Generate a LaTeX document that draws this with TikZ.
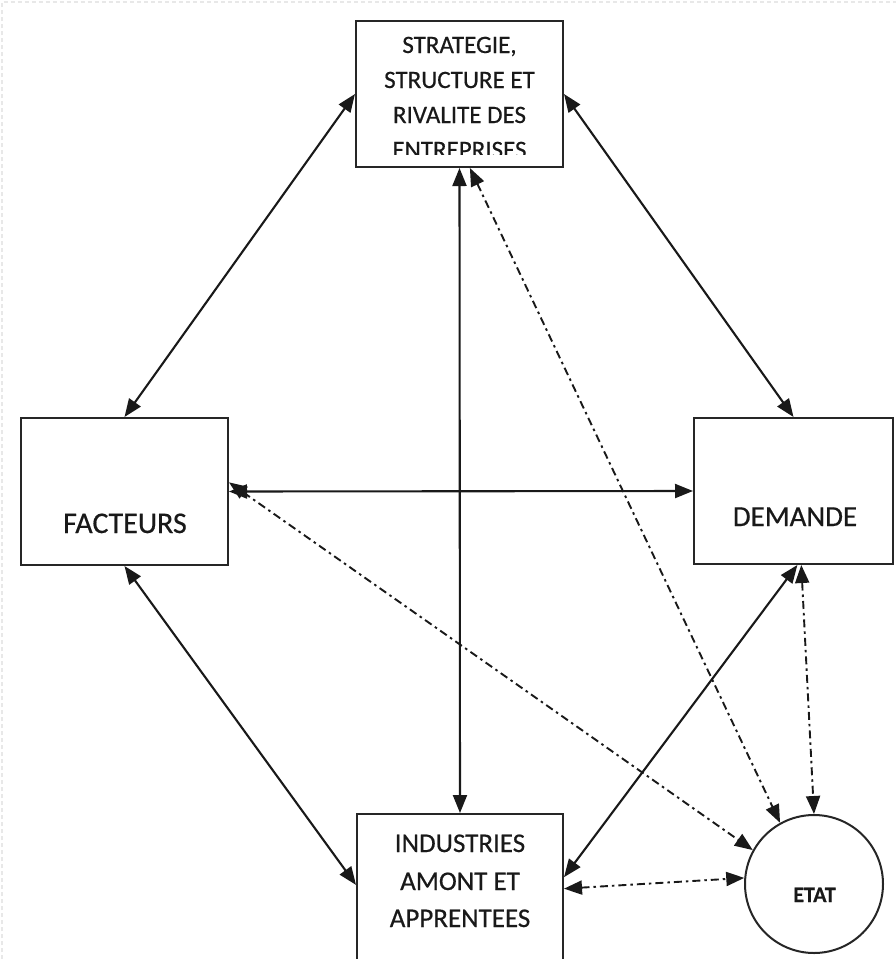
\documentclass[tikz,border=0pt]{standalone}
\usepackage{fontspec}
\setmainfont{Carlito}[FakeBold=0.5]
\usetikzlibrary{arrows.meta}
\begin{document}
\begin{tikzpicture}[x=1pt,y=-1pt,
  box/.style={draw=black!85, line width=2pt, fill=white, inner sep=0pt},
  lbl/.style={anchor=base, inner sep=0pt, text=black!90},
  rel/.style={line width=2.1pt, draw=black!90, {Triangle[length=18pt,width=14pt]}-{Triangle[length=18pt,width=14pt]}},
  gov/.style={line width=1.9pt, draw=black!90, dash pattern=on 8pt off 4pt on 2.5pt off 4pt, {Triangle[length=18pt,width=14pt]}-{Triangle[length=18pt,width=14pt]}}
]
\clip (0,0) rectangle (896,959);
\fill[white] (0,0) rectangle (896,959);
\draw[gray!18, line width=1.5pt, dash pattern=on 4pt off 3pt] (2,959) -- (2,2) -- (896,2);

% boxes
\node[box, minimum width=207pt, minimum height=146pt] (s) at (459.5,94) {};
\node[box, minimum width=207pt, minimum height=147pt] (f) at (124.5,491.5) {};
\node[box, minimum width=199pt, minimum height=146pt] (d) at (793.5,491) {};
\node[box, minimum width=206pt, minimum height=186pt] (i) at (460,907) {};
\node[box, circle, minimum size=138pt] (e) at (814,884) {};

% texts
\begin{scope}
\clip (357,22) rectangle (562,154);
\node[lbl, font=\fontsize{25}{25}\selectfont] (s1) at (459.5,53) {STRATEGIE,};
\node[lbl, font=\fontsize{25}{25}\selectfont] (s2) at (459.5,88) {STRUCTURE ET};
\node[lbl, font=\fontsize{25}{25}\selectfont] (s3) at (459.5,123) {RIVALITE DES};
\node[lbl, font=\fontsize{25}{25}\selectfont] (s4) at (459.5,158) {ENTREPRISES};
\end{scope}
\node[lbl, font=\fontsize{30}{30}\selectfont] (ft) at (125,533) {FACTEURS};
\node[lbl, font=\fontsize{29}{29}\selectfont] (dt) at (795,526) {DEMANDE};
\node[lbl, font=\fontsize{27}{27}\selectfont] (i1) at (460,852) {INDUSTRIES};
\node[lbl, font=\fontsize{27}{27}\selectfont] (i2) at (460,890) {AMONT ET};
\node[lbl, font=\fontsize{27}{27}\selectfont] (i3) at (460,927) {APPRENTEES};
\node[lbl, font=\bfseries\fontsize{22}{22}\selectfont] (et) at (814.5,902) {ETAT};

% solid relations
\draw[rel] (s.west) -- (f.north);
\draw[rel] (s.east) -- (d.north);
\draw[rel] (f.east) -- (d.west);
\draw[rel] (s.south) -- (i.north);
\draw[rel] (f.south) -- (i.168);
\draw[rel] (d.-87) -- (i.16);

% dash-dot relations with ETAT
\draw[gov] (s.-82) -- (e.119);
\draw[gov] (f.5) -- (e.151);
\draw[gov] (d.-84) -- (e.north);
\draw[gov] (i.10) -- (e.175);
\end{tikzpicture}
\end{document}
